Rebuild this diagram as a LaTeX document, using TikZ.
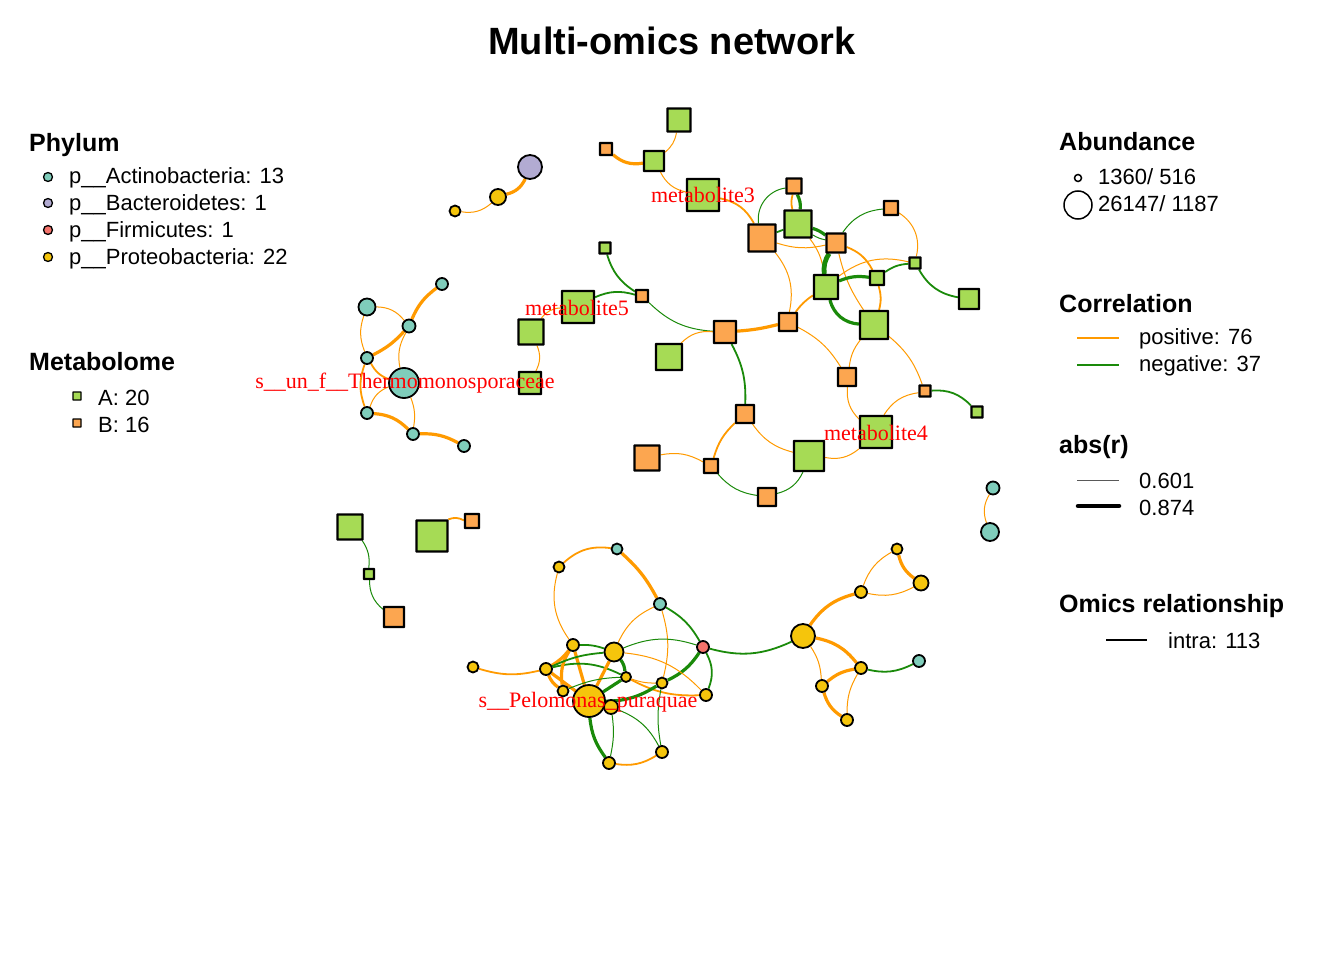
\documentclass[tikz,border=0pt]{standalone}
\usepackage{fontspec}
\setmainfont{Liberation Sans}
\newfontfamily\labfont{Liberation Serif}
\usetikzlibrary{positioning,backgrounds}

\definecolor{cActino}{HTML}{7FCDBB}
\definecolor{cBactero}{HTML}{B2ABD2}
\definecolor{cFirmi}{HTML}{F4736B}
\definecolor{cProteo}{HTML}{F5C50C}
\definecolor{cMetA}{HTML}{A6DB55}
\definecolor{cMetB}{HTML}{FCA650}
\definecolor{cPos}{HTML}{FF9A00}
\definecolor{cNeg}{HTML}{1A8A0A}

\begin{document}
\begin{tikzpicture}[x=1pt, y=-1pt,
    taxon/.style={circle, draw=black, line width=1.8pt, inner sep=0pt, minimum size=#1},
    actino/.style={taxon=#1, fill=cActino},
    bactero/.style={taxon=#1, fill=cBactero},
    firmi/.style={taxon=#1, fill=cFirmi},
    proteo/.style={taxon=#1, fill=cProteo},
    metab/.style={rectangle, rounded corners=0.2pt, draw=black, line width=2.2pt, inner sep=0pt, minimum size=#1},
    metA/.style={metab=#1, fill=cMetA},
    metB/.style={metab=#1, fill=cMetB},
    posc/.style={draw=cPos},
    negc/.style={draw=cNeg},
    weak/.style={line width=1pt},
    medium/.style={line width=1.8pt},
    strong/.style={line width=3.2pt},
    vstrong/.style={line width=4.8pt},
    lab/.style={anchor=base, text=red, font=\labfont\fontsize{22}{26}\selectfont},
    head/.style={anchor=base west, inner sep=0pt, font=\bfseries\fontsize{25}{30}\selectfont},
    item/.style={anchor=base west, inner sep=0pt, font=\fontsize{22}{26}\selectfont}]
  \useasboundingbox (0,0) rectangle (1344,960);

  \node[anchor=base, font=\bfseries\fontsize{38}{44}\selectfont] (title) at (672,55) {Multi-omics network};

  % microbe nodes with absolute coordinates
  \node[bactero=24pt] (b1) at (530,167) {};
  \node[proteo=16pt] (p1) at (498,197) {};
  \node[proteo=11pt] (p2) at (455,211) {};

  \node[actino=30pt] (tb) at (404,383) {};
  \node[actino=17pt] (t1) at (367,307) {};
  \node[actino=12pt] (t2) at (442,284) {};
  \node[actino=13pt] (t3) at (409,326) {};
  \node[actino=12pt] (t4) at (367,358) {};
  \node[actino=12pt] (t5) at (367,413) {};
  \node[actino=12pt] (t6) at (413,434) {};
  \node[actino=12pt] (t7) at (464,446) {};

  \node[actino=13pt] (ra1) at (993,488) {};
  \node[actino=18pt] (ra2) at (990,532) {};

  \node[actino=11pt] (q1) at (617,549) {};
  \node[proteo=11pt] (q2) at (559,567) {};
  \node[actino=12pt] (q3) at (660,604) {};
  \node[firmi=12pt] (q4) at (703,647) {};
  \node[proteo=12pt] (q5) at (573,645) {};
  \node[proteo=19pt] (q6) at (614,652) {};
  \node[proteo=11pt] (q7) at (473,667) {};
  \node[proteo=12pt] (q8) at (546,669) {};
  \node[proteo=10pt] (q9) at (626,677) {};
  \node[proteo=11pt] (q10) at (662,683) {};
  \node[proteo=11pt] (q11) at (563,691) {};
  \node[proteo=32pt] (pel) at (589,701) {};
  \node[proteo=14pt] (q12) at (611,707) {};
  \node[proteo=12pt] (q13) at (706,695) {};
  \node[proteo=12pt] (q14) at (662,752) {};
  \node[proteo=12pt] (q15) at (609,763) {};

  \node[proteo=24pt] (r0) at (803,636) {};
  \node[proteo=12pt] (r1) at (861,592) {};
  \node[proteo=11pt] (r2) at (897,549) {};
  \node[proteo=15pt] (r3) at (921,583) {};
  \node[proteo=12pt] (r4) at (861,668) {};
  \node[proteo=12pt] (r5) at (822,686) {};
  \node[proteo=12pt] (r6) at (847,720) {};
  \node[actino=12pt] (r7) at (919,661) {};

  % metabolite nodes
  \node[metA=23pt] (ma) at (679,120) {};
  \node[metB=12pt] (mb) at (606,149) {};
  \node[metA=20pt] (mc) at (654,161) {};
  \node[metA=32pt] (met3) at (703,195) {};
  \node[metB=27pt] (md) at (762,238) {};
  \node[metB=15pt] (me) at (794,186) {};
  \node[metA=27pt] (mf) at (798,224) {};
  \node[metB=19pt] (mg) at (836,243) {};
  \node[metB=14pt] (mh) at (891,208) {};
  \node[metA=11pt] (mi) at (915,263) {};
  \node[metA=14pt] (mj) at (877,278) {};
  \node[metA=24pt] (mk) at (826,287) {};
  \node[metA=20pt] (ml) at (969,299) {};
  \node[metA=28pt] (mm) at (874,325) {};
  \node[metA=11pt] (mn) at (605,248) {};
  \node[metB=12pt] (mo) at (642,296) {};
  \node[metA=32pt] (met5) at (578,307) {};
  \node[metB=22pt] (mp) at (725,332) {};
  \node[metB=18pt] (mq) at (788,322) {};
  \node[metA=26pt] (mr) at (669,357) {};
  \node[metB=18pt] (ms) at (847,377) {};
  \node[metB=11pt] (mt) at (925,391) {};
  \node[metA=11pt] (mu) at (977,412) {};
  \node[metA=32pt] (met4) at (876,432) {};
  \node[metB=18pt] (mv) at (745,414) {};
  \node[metA=25pt] (mw) at (531,332) {};
  \node[metA=22pt] (mx) at (530,383) {};
  \node[metB=25pt] (my) at (647,458) {};
  \node[metB=14pt] (mz) at (711,466) {};
  \node[metA=30pt] (mbig) at (809,456) {};
  \node[metB=18pt] (maa) at (767,497) {};
  \node[metA=25pt] (l1) at (350,527) {};
  \node[metA=10pt] (l2) at (369,574) {};
  \node[metB=20pt] (l3) at (394,617) {};
  \node[metA=31pt] (l4) at (432,536) {};
  \node[metB=14pt] (l5) at (472,521) {};

  % correlation edges
  \begin{scope}[on background layer]
    \draw[posc, strong] (b1) to[bend left=25] (p1);
    \draw[posc, weak] (p1) to[bend left=25] (p2);

    \draw[posc, weak] (t1) to[bend left=25] (t3);
    \draw[posc, weak] (t1) to[bend right=20] (t4);
    \draw[posc, strong] (t2) to[bend right=15] (t3);
    \draw[posc, strong] (t3) to[bend left=10] (t4);
    \draw[posc, weak] (t3) to[bend right=20] (tb);
    \draw[posc, medium] (t4) to[bend right=20] (tb);
    \draw[posc, medium] (t4) to[bend right=20] (t5);
    \draw[posc, weak] (t5) to[bend left=25] (tb);
    \draw[posc, weak] (tb) to[bend left=15] (t6);
    \draw[posc, strong] (t5) to[bend left=20] (t6);
    \draw[posc, strong] (t6) to[bend left=15] (t7);
    \draw[posc, weak] (ra1) to[bend right=25] (ra2);

    \draw[posc, weak] (ma) to[bend left=20] (mc);
    \draw[posc, strong] (mb) to[bend right=25] (mc);
    \draw[posc, weak] (mc) to[bend right=25] (met3);
    \draw[posc, medium] (met3) to[bend left=25] (md);
    \draw[negc, medium] (md) -- (mf);
    \draw[negc, weak] (md) to[bend left=45] (me);
    \draw[posc, medium] (me) to[bend right=15] (mf);
    \draw[negc, strong] (me) to[bend left=15] (mf);
    \draw[negc, strong] (mf) to[bend left=10] (mg);
    \draw[negc, weak] (mf) to[bend right=10] (mg);
    \draw[posc, weak] (md) to[bend right=15] (mg);
    \draw[posc, weak] (md) to[bend left=25] (mq);
    \draw[posc, weak] (mf) to[bend left=15] (mk);
    \draw[negc, weak] (mg) to[bend left=25] (mh);
    \draw[negc, vstrong] (mg) to[bend right=20] (mk);
    \draw[posc, medium] (mg) to[bend left=20] (mj);
    \draw[posc, weak] (mg) to[bend right=10] (mm);
    \draw[posc, weak] (mh) to[bend left=35] (mi);
    \draw[negc, medium] (mi) to[bend right=15] (mj);
    \draw[posc, weak] (mi) to[bend right=25] (mk);
    \draw[negc, medium] (mi) to[bend right=25] (ml);
    \draw[negc, strong] (mj) to[bend right=15] (mk);
    \draw[posc, medium] (mj) to[bend left=15] (mm);
    \draw[negc, strong] (mk) to[bend right=35] (mm);
    \draw[posc, medium] (mk) to[bend right=10] (mq);
    \draw[posc, strong] (mq) to[bend left=5] (mp);
    \draw[negc, weak] (mp) to[bend left=20] (mo);
    \draw[posc, weak] (mp) to[bend right=25] (mr);
    \draw[negc, medium] (mp) to[bend left=15] (mv);
    \draw[negc, medium] (mo) to[bend left=20] (mn);
    \draw[negc, medium] (mo) to[bend right=20] (met5);
    \draw[posc, weak] (met5) to[bend right=25] (mw);
    \draw[posc, weak] (mw) to[bend left=25] (mx);
    \draw[posc, weak] (mq) to[bend left=15] (ms);
    \draw[posc, weak] (mm) to[bend right=15] (ms);
    \draw[posc, weak] (mm) to[bend left=15] (mt);
    \draw[negc, medium] (mt) to[bend left=25] (mu);
    \draw[posc, weak] (ms) to[bend right=25] (met4);
    \draw[posc, weak] (met4) to[bend left=25] (mt);
    \draw[posc, medium] (mv) to[bend right=15] (mz);
    \draw[posc, weak] (mv) to[bend right=20] (mbig);
    \draw[posc, weak] (my) to[bend left=20] (mz);
    \draw[negc, weak] (mz) to[bend right=20] (maa);
    \draw[negc, weak] (maa) to[bend right=25] (mbig);
    \draw[posc, weak] (mbig) to[bend right=25] (met4);
    \draw[negc, weak] (l1) to[bend left=20] (l2);
    \draw[negc, weak] (l2) to[bend right=25] (l3);
    \draw[posc, medium] (l4) to[bend left=25] (l5);

    \draw[posc, medium] (q2) to[bend left=25] (q1);
    \draw[posc, strong] (q1) to[bend left=10] (q3);
    \draw[posc, weak] (q2) to[bend right=25] (q5);
    \draw[negc, medium] (q3) to[bend left=15] (q4);
    \draw[posc, weak] (q3) to[bend right=20] (q6);
    \draw[posc, weak] (q3) to[bend left=15] (q10);
    \draw[negc, medium] (q4) to[bend left=25] (q13);
    \draw[negc, weak] (q6) to[bend left=20] (q4);
    \draw[negc, strong] (q4) to[bend left=15] (q10);
    \draw[posc, medium] (q7) to[bend right=15] (q8);
    \draw[posc, strong] (q5) to[bend left=10] (q8);
    \draw[negc, medium] (q5) to[bend left=10] (q6);
    \draw[posc, strong] (q5) to (pel);
    \draw[negc, medium] (q8) to[bend left=20] (q9);
    \draw[posc, strong] (q8) to[bend right=15] (q11);
    \draw[posc, strong] (q8) to (pel);
    \draw[posc, strong] (q6) to (pel);
    \draw[negc, strong] (q6) to[bend left=15] (q9);
    \draw[posc, weak] (q9) to[bend right=10] (q10);
    \draw[posc, medium] (q9) to[bend right=15] (q13);
    \draw[negc, strong] (q9) to (pel);
    \draw[negc, strong] (q10) to[bend left=15] (pel);
    \draw[negc, weak] (q10) to[bend right=10] (q14);
    \draw[negc, weak] (q11) to[bend left=10] (q9);
    \draw[negc, strong] (pel) to[bend right=15] (q15);
    \draw[negc, weak] (q12) to[bend left=10] (q15);
    \draw[negc, weak] (q12) to[bend left=20] (q14);
    \draw[posc, medium] (q14) to[bend left=20] (q15);
    \draw[posc, weak] (q6) to[bend left=20] (q13);
    \draw[posc, strong] (q5) to[bend right=20] (q11);
    \draw[negc, medium] (q8) to[bend left=10] (q6);

    \draw[negc, medium] (q4) to[bend right=20] (r0);
    \draw[posc, strong] (r0) to[bend left=20] (r1);
    \draw[posc, weak] (r1) to[bend left=20] (r2);
    \draw[posc, strong] (r2) to[bend right=20] (r3);
    \draw[posc, weak] (r1) to[bend right=20] (r3);
    \draw[posc, strong] (r0) to[bend left=20] (r4);
    \draw[posc, weak] (r0) to[bend left=15] (r5);
    \draw[posc, strong] (r4) to[bend right=15] (r5);
    \draw[posc, strong] (r5) to[bend right=20] (r6);
    \draw[posc, weak] (r4) to[bend right=15] (r6);
    \draw[negc, medium] (r4) to[bend right=20] (r7);
  \end{scope}

  % labels of hub nodes
  \node[lab] (lab3) at (703,203) {metabolite3};
  \node[lab] (lab5) at (577,315) {metabolite5};
  \node[lab] (labT) at (405,388) {s\_\_un\_f\_\_Thermomonosporaceae};
  \node[lab] (lab4) at (876,440) {metabolite4};
  \node[lab] (labP) at (588,707) {s\_\_Pelomonas\_puraquae};

  % left legends
  \node[head] (hPhy) at (29,152) {Phylum};
  \node[actino=9pt, line width=1.3pt] (kA) at (48,177) {};
  \node[bactero=9pt, line width=1.3pt] (kB) at (48,203) {};
  \node[firmi=9pt, line width=1.3pt] (kF) at (48,230) {};
  \node[proteo=9pt, line width=1.3pt] (kP) at (48,257) {};
  \node[item] (tA) at (69,184) {p\_\_Actinobacteria: 13};
  \node[item] (tB) at (69,211) {p\_\_Bacteroidetes: 1};
  \node[item] (tF) at (69,238) {p\_\_Firmicutes: 1};
  \node[item] (tP) at (69,264) {p\_\_Proteobacteria: 22};

  \node[head] (hMet) at (29,370) {Metabolome};
  \node[metA=8pt, line width=1.3pt] (kMA) at (77,396) {};
  \node[metB=8pt, line width=1.3pt] (kMB) at (77,423) {};
  \node[item] (tMA) at (98,405) {A: 20};
  \node[item] (tMB) at (98,432) {B: 16};

  % right legends
  \node[head] (hAb) at (1059,151) {Abundance};
  \node[circle, draw, line width=1.5pt, minimum size=7pt, inner sep=0pt] (kS) at (1078,178) {};
  \node[circle, draw, line width=1.5pt, minimum size=28pt, inner sep=0pt] (kL) at (1078,205) {};
  \node[item] (tS) at (1098,185) {1360/ 516};
  \node[item] (tL) at (1098,212) {26147/ 1187};

  \node[head] (hCor) at (1059,312) {Correlation};
  \coordinate (c1a) at (1077,338); \coordinate (c1b) at (1119,338);
  \coordinate (c2a) at (1077,365); \coordinate (c2b) at (1119,365);
  \draw[posc, line width=1.4pt] (c1a) -- (c1b);
  \draw[negc, line width=1.4pt] (c2a) -- (c2b);
  \node[item] (tPos) at (1139,344) {positive: 76};
  \node[item] (tNeg) at (1139,371) {negative: 37};

  \node[head] (hAbs) at (1059,453) {abs(r)};
  \coordinate (a1a) at (1077,480); \coordinate (a1b) at (1119,480);
  \coordinate (a2a) at (1078,506); \coordinate (a2b) at (1119,506);
  \draw[gray!70!black, line width=1pt] (a1a) -- (a1b);
  \draw[black, line width=4.5pt, line cap=round] (a2a) -- (a2b);
  \node[item] (tLo) at (1139,488) {0.601};
  \node[item] (tHi) at (1139,515) {0.874};

  \node[head] (hOm) at (1059,612) {Omics relationship};
  \coordinate (o1a) at (1106,640); \coordinate (o1b) at (1147,640);
  \draw[black, line width=1.4pt] (o1a) -- (o1b);
  \node[item] (tIn) at (1168,648) {intra: 113};
\end{tikzpicture}
\end{document}
